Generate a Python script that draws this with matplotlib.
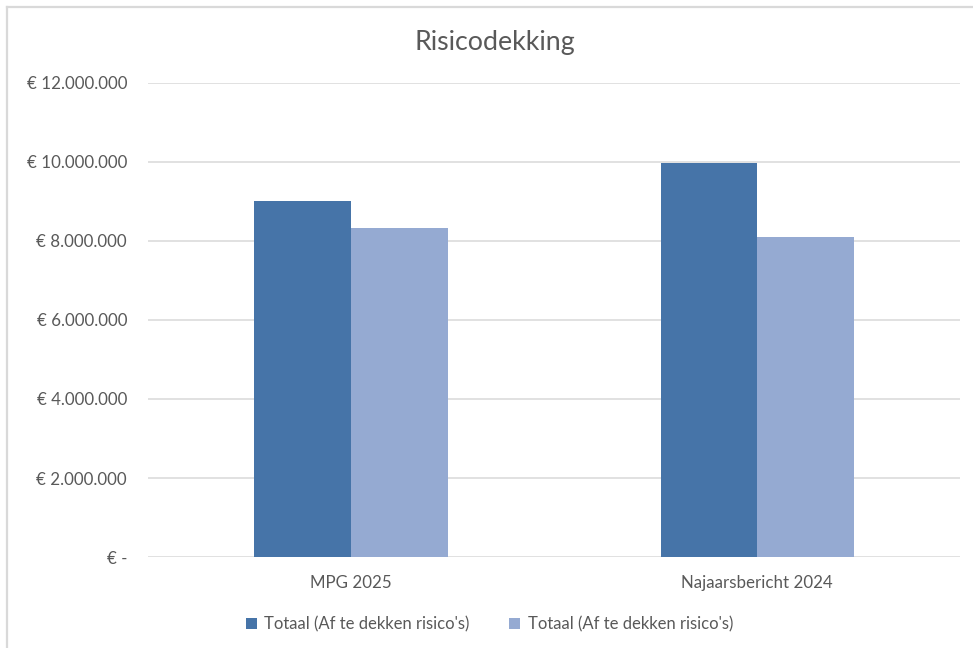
import matplotlib.pyplot as plt
from matplotlib.lines import Line2D
from matplotlib.ticker import FuncFormatter
import numpy as np

plt.rcParams['font.family'] = ['Lato', 'DejaVu Sans']

categories = ['MPG 2025', 'Najaarsbericht 2024']
series_names = ["Totaal (Af te dekken risico's)", "Totaal (Af te dekken risico's)"]
totaal_a = [9020000, 9975000]
totaal_b = [8340000, 8110000]
yticks = [0, 2000000, 4000000, 6000000, 8000000, 10000000, 12000000]

DARK = '#4674A8'
LIGHT = '#95AAD2'
TEXT = '#595959'
GRID = '#D9D9D9'


def euro(v, _pos=None):
    if v == 0:
        return '€ -'
    return '€ ' + f'{int(v):,}'.replace(',', '.')


fig = plt.figure(figsize=(9.73, 6.48), dpi=100)
fig.patch.set_facecolor('white')
ax = fig.add_axes([0.152, 0.1404, 0.835, 0.7316])

x = np.arange(len(categories))
w = 0.238
ax.bar(x - w / 2, totaal_a, w, color=DARK, label=series_names[0], zorder=3)
ax.bar(x + w / 2, totaal_b, w, color=LIGHT, label=series_names[1], zorder=3)

ax.set_xlim(-0.5, 1.5)
ax.set_ylim(0, 12000000)
ax.set_yticks(yticks)
ax.yaxis.set_major_formatter(FuncFormatter(euro))
ax.set_xticks(x)
ax.set_xticklabels(categories)

ax.grid(axis='y', color=GRID, lw=1.1, zorder=0)
for s in ax.spines.values():
    s.set_visible(False)
ax.tick_params(axis='both', length=0, labelsize=12.2, colors=TEXT)
ax.tick_params(axis='y', pad=15)
ax.tick_params(axis='x', pad=13)

fig.text(0.509, 0.935, 'Risicodekking', ha='center', va='center',
         fontsize=19.3, color=TEXT)

fig.legend(loc='center', bbox_to_anchor=(0.503, 0.037), ncol=2,
           frameon=False, fontsize=12, labelcolor=TEXT,
           handlelength=0.65, handleheight=0.65, handletextpad=0.45,
           columnspacing=2.4)

# chart border (top and left edge)
fig.add_artist(Line2D([0.0075, 1.0], [0.989, 0.989], color=GRID, lw=1.6,
                      transform=fig.transFigure))
fig.add_artist(Line2D([0.0075, 0.0075], [0.0, 0.989], color=GRID, lw=1.6,
                      transform=fig.transFigure))

fig.savefig('out.png', dpi=100, facecolor='white')
